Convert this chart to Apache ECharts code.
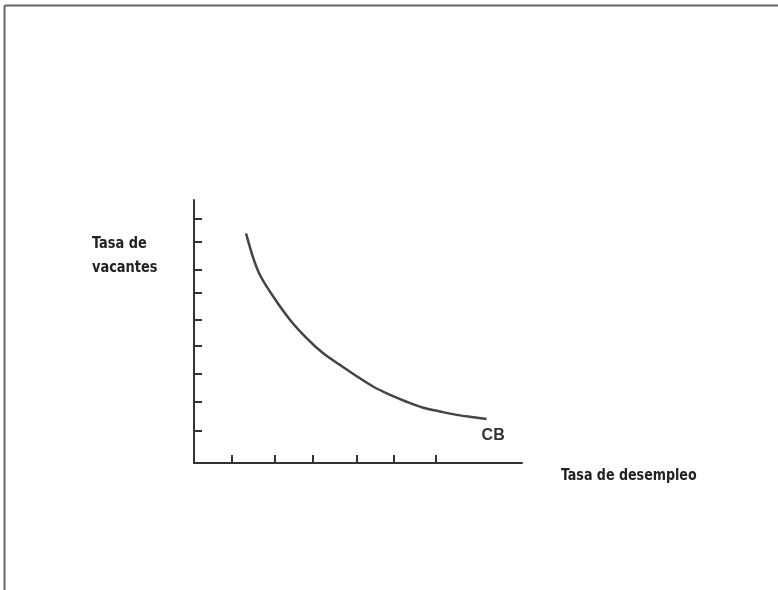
<!DOCTYPE html>
<html>
<head>
<meta charset="utf-8">
<script src="https://cdn.jsdelivr.net/npm/echarts@6/dist/echarts.min.js"></script>
<style>
html,body{margin:0;padding:0;background:#fff;}
#c{width:778px;height:590px;}
</style>
</head>
<body>
<div id="c"></div>
<script>
// Curve CB (unemployment rate vs vacancy rate), arbitrary 0-100 units
const curveX = [15.85, 18.1, 20.1, 24.2, 29.3, 34.4, 39.4, 44.5, 49.6, 54.7, 59.8, 64.8, 69.9, 75.0, 80.1, 85.2, 89.2];
const curveY = [87.3, 77.8, 71.5, 63.2, 54.4, 47.4, 41.7, 37.3, 33.0, 29.0, 25.9, 23.3, 21.0, 19.6, 18.3, 17.4, 16.7];
const xTicks = [11.5, 24.7, 36.1, 49.5, 61.0, 73.8];
const yTicks = [12.3, 23.3, 33.8, 44.5, 54.4, 64.9, 73.4, 84.1, 92.7];
const curveName = 'CB';
const xTitle = 'Tasa de desempleo';
const yTitle = 'Tasa de\nvacantes';

const FONT = '"Liberation Sans Narrow", "DejaVu Sans Condensed", "Liberation Sans", sans-serif';
const INK = '#333';

const data = curveX.map((x, i) => [x, curveY[i]]);

const chart = echarts.init(document.getElementById('c'), null, { renderer: 'canvas' });
chart.setOption({
  backgroundColor: '#fff',
  animation: false,
  grid: { left: 194, top: 200, right: 256, bottom: 127 },
  xAxis: {
    type: 'value', min: 0, max: 100,
    axisLine: { show: true, lineStyle: { color: INK, width: 2 } },
    axisTick: { show: true, inside: true, length: 8, lineStyle: { color: INK, width: 2 }, customValues: xTicks },
    axisLabel: { show: false },
    splitLine: { show: false }
  },
  yAxis: {
    type: 'value', min: 0, max: 100,
    axisLine: { show: true, lineStyle: { color: INK, width: 2 } },
    axisTick: { show: true, inside: true, length: 8, lineStyle: { color: INK, width: 2 }, customValues: yTicks },
    axisLabel: { show: false },
    splitLine: { show: false }
  },
  series: [{
    type: 'line', name: curveName, data: data, smooth: 0.3,
    showSymbol: false, symbol: 'none',
    itemStyle: { color: '#444' },
    lineStyle: { color: '#444', width: 2.5 },
    endLabel: {
      show: true, formatter: curveName, offset: [-13, 17],
      color: INK, fontFamily: '"Liberation Sans", sans-serif', fontWeight: 'bold', fontSize: 16
    }
  }],
  graphic: [
    { type: 'line', shape: { x1: 4.5, y1: 5.5, x2: 778, y2: 5.5 }, style: { stroke: '#666', lineWidth: 2 } },
    { type: 'line', shape: { x1: 4.5, y1: 5.5, x2: 4.5, y2: 590 }, style: { stroke: '#666', lineWidth: 2 } },
    { type: 'text', x: 92, y: 232, scaleX: 0.9,
      style: { text: yTitle, fill: '#222', font: 'bold 16px ' + FONT, lineHeight: 24 } },
    { type: 'text', x: 561, y: 468, scaleX: 0.88,
      style: { text: xTitle, fill: '#222', font: 'bold 16px ' + FONT } }
  ]
});
</script>
</body>
</html>
